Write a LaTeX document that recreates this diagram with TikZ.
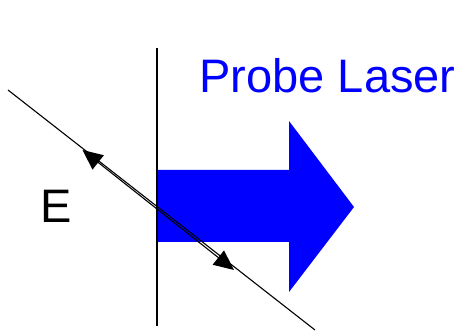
\documentclass[tikz,border=0pt]{standalone}
\usepackage{fontspec}
\setmainfont{Liberation Sans}
\usetikzlibrary{arrows.meta}
\definecolor{laserblue}{RGB}{0,0,255}
\begin{document}
\begin{tikzpicture}[x=1pt,y=1pt,>={Triangle[length=20pt,width=18pt]}]
  \useasboundingbox (0,0) rectangle (465,334);
  \fill[laserblue] (158,164) -- (289,164) -- (289,213) -- (354,127)
    -- (289,42) -- (289,92) -- (158,92) -- cycle;
  \draw[line width=1.3pt] (157,286) -- (157,8);
  \draw[line width=1.1pt] (8,244) -- (315,4);
  \draw[line width=1.1pt,<->] (82.5,184) -- (234,64);
  \node[font=\fontsize{47}{47}\selectfont,text=laserblue] (lbl) at (327.5,258) {Probe Laser};
  \node[font=\fontsize{47}{47}\selectfont] (efield) at (56,128) {E};
\end{tikzpicture}
\end{document}
